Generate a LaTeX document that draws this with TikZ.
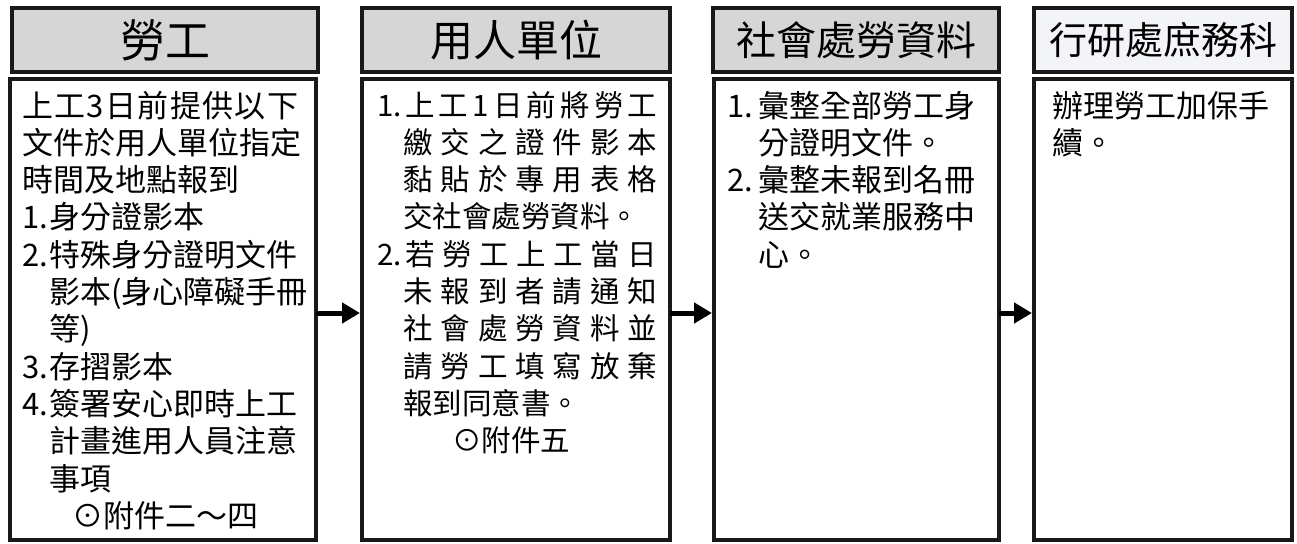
\documentclass[tikz,border=0pt]{standalone}
\usepackage{fontspec}
\newfontfamily\cjk{Noto Sans CJK TC}
\usetikzlibrary{arrows.meta,positioning}

\newcommand\spreadchars[1]{\spreadnext#1\relax}
\def\spreadnext#1#2{#1\ifx#2\relax\else\hfil\expandafter\spreadnext\expandafter#2\fi}
\newcommand\jl[2]{\makebox[#1][s]{\spreadchars{#2}}}
\newcommand\pre[2]{\makebox[#1][l]{#2}}

\begin{document}
\begin{tikzpicture}[x=1pt,y=-1pt,
  titlebox/.style={draw=black!90,line width=4pt,fill=gray!32,inner sep=0,outer sep=0,anchor=north west,minimum height=64pt},
  bodybox/.style={draw=black!90,line width=4pt,fill=white,inner sep=0,outer sep=0,anchor=north west,minimum height=461pt},
  bodytext/.style={anchor=base west,align=left,inner sep=0,font=\cjk\fontsize{31}{37.3}\selectfont},
  flowarrow/.style={line width=5pt,shorten >=2pt,-{Triangle[length=18pt,width=20pt]}}]
\useasboundingbox (0,0) rectangle (1297,543);

\node[titlebox,minimum width=306pt,font=\cjk\fontsize{45}{45}\selectfont] (h1) at (12,8) {勞工};
\node[titlebox,minimum width=308pt,font=\cjk\fontsize{43}{43}\selectfont] (h2) at (362,8) {用人單位};
\node[titlebox,minimum width=286pt,font=\cjk\fontsize{40}{40}\selectfont] (h3) at (713,8) {社會處勞資料};
\node[titlebox,minimum width=258pt,fill={rgb,255:red,243;green,244;blue,248},font=\cjk\fontsize{38}{38}\selectfont] (h4) at (1034,8) {行研處庶務科};

\node[bodybox,minimum width=306pt] (b1) at (10,79) {};
\node[bodybox,minimum width=308pt] (b2) at (362,79) {};
\node[bodybox,minimum width=285pt] (b3) at (714,79) {};
\node[bodybox,minimum width=258pt] (b4) at (1034,79) {};

% base = last line
\node[bodytext] (t1) at (22,527.3) {\jl{276pt}{上工3日前提供以下}\\
文件於用人單位指定\\
時間及地點報到\\
\pre{27pt}{1.}身分證影本\\
\pre{27pt}{2.}特殊身分證明文件\\
\hspace*{27pt}影本(身心障礙手冊\\
\hspace*{27pt}等)\\
\pre{27pt}{3.}存摺影本\\
\pre{27pt}{4.}簽署安心即時上工\\
\hspace*{27pt}計畫進用人員注意\\
\hspace*{27pt}事項\\
\hspace*{50pt}⊙附件二～四};

\node[bodytext,font=\cjk\fontsize{29.5}{37.3}\selectfont] (t2) at (377,451.7) {\pre{28pt}{1.}\jl{252pt}{上工1日前將勞工}\\
\hspace*{26pt}\jl{254pt}{繳交之證件影本}\\
\hspace*{26pt}\jl{254pt}{黏貼於專用表格}\\
\hspace*{26pt}交社會處勞資料。\\
\pre{28pt}{2.}\jl{252pt}{若勞工上工當日}\\
\hspace*{26pt}\jl{254pt}{未報到者請通知}\\
\hspace*{26pt}\jl{254pt}{社會處勞資料並}\\
\hspace*{26pt}\jl{254pt}{請勞工填寫放棄}\\
\hspace*{26pt}報到同意書。\\
\hspace*{75pt}⊙附件五};

\node[bodytext] (t3) at (727,266.2) {\pre{31pt}{1.}彙整全部勞工身\\
\hspace*{31pt}分證明文件。\\
\pre{31pt}{2.}彙整未報到名冊\\
\hspace*{31pt}送交就業服務中\\
\hspace*{31pt}心。};

\node[bodytext] (t4) at (1052,154.3) {辦理勞工加保手\\
續。};

\foreach \a/\b in {b1/b2,b2/b3,b3/b4} {
\draw[flowarrow] ([yshift=-3.5pt]\a.east) -- ([yshift=-3.5pt]\b.west);
}
\end{tikzpicture}
\end{document}
